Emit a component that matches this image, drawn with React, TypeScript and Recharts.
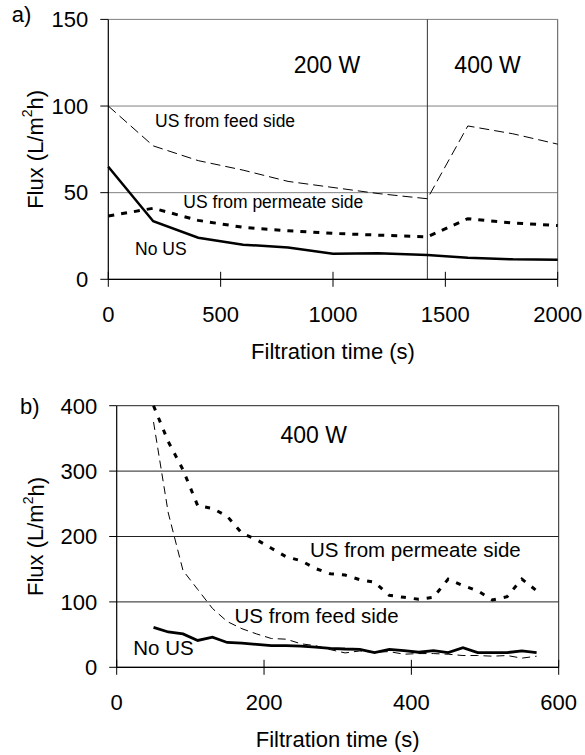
import React from 'react';
import { LineChart, Line, XAxis, YAxis, CartesianGrid, ReferenceLine, ReferenceDot } from 'recharts';

const FONT = 'Liberation Sans, Arial, Helvetica, sans-serif';

// ---------- Panel a) ----------
const timeA = [0, 200, 400, 600, 800, 1000, 1200, 1420, 1600, 1800, 2000];
const noUsA = [65, 33.5, 24, 20, 18.3, 14.8, 15, 14, 12.4, 11.5, 11.3];
const feedA = [100, 77, 68.5, 63, 56.5, 53, 49.5, 46.5, 88.5, 84, 78];
const permA = [36.5, 41, 34, 30, 28, 26.5, 25.5, 24.5, 35, 32.5, 31];
const xTicksA = [0, 500, 1000, 1500, 2000];
const yTicksA = [0, 50, 100, 150];
const powerSwitchA = 1420;

// ---------- Panel b) ----------
const timeB = [50, 70, 90, 110, 130, 150, 170, 190, 210, 230, 250, 270, 290, 310, 330, 350, 370, 390, 410, 430, 450, 470, 490, 510, 530, 550, 570];
const noUsB = [61, 54, 51, 41, 46, 38, 37, 35, 33, 33, 32.5, 31, 29, 28, 27.5, 22.5, 27.5, 25.5, 23, 25.5, 22.5, 30, 22.5, 22.5, 22.5, 25, 22.5];
const feedB = [375, 236, 148, 119, 90, 70, 59, 51, 44, 43, 36, 33, 27, 22, 25, 23, 24, 20, 21, 21, 20, 18, 18, 17, 18, 14, 17];
const permB = [400, 345, 302, 247, 243, 231, 205, 195, 182, 169, 163, 151, 143, 141, 134, 130, 110, 107, 104, 107, 135, 125, 117, 103, 108, 135, 117];
const xTicksB = [0, 200, 400, 600];
const yTicksB = [0, 100, 200, 300, 400];

const rowsA = timeA.map((t, i) => ({ t, noUs: noUsA[i], feed: feedA[i], perm: permA[i] }));
const rowsB = timeB.map((t, i) => ({ t, noUs: noUsB[i], feed: feedB[i], perm: permB[i] }));

// annotation anchors (data coordinates)
const notesA = [
  { t: 973, v: 119.3, text: '200 W', size: 23, anchor: 'middle' },
  { t: 1688, v: 119.3, text: '400 W', size: 23, anchor: 'middle' },
  { t: 208, v: 87.8, text: 'US from feed side', size: 17.5, anchor: 'start' },
  { t: 334, v: 41.2, text: 'US from permeate side', size: 17.5, anchor: 'start' },
  { t: 119, v: 14, text: 'No US', size: 17.5, anchor: 'start' },
];
const notesB = [
  { t: 267.5, v: 342.8, text: '400 W', size: 23, anchor: 'middle' },
  { t: 262.4, v: 169.1, text: 'US from permeate side', size: 20.5, anchor: 'start' },
  { t: 160, v: 67.3, text: 'US from feed side', size: 20.5, anchor: 'start' },
  { t: 22.5, v: 18.8, text: 'No US', size: 20.5, anchor: 'start' },
];

const CrossTick = (props: any) => {
  const { x, y, payload } = props;
  return (
    <g>
      <line x1={x} x2={x} y1={y - 7.5} y2={y + 7.5} stroke="#000" strokeWidth={1} />
      <text x={x} y={y + 42.4} textAnchor="middle" fontSize={22} fontFamily={FONT} fill="#000">
        {payload.value}
      </text>
    </g>
  );
};

const makeNote = (text: string, size: number, anchor: string) => (props: any) => {
  const vb = props.viewBox || {};
  const x = (vb.x || 0) + (vb.width || 0) / 2;
  const y = (vb.y || 0) + (vb.height || 0) / 2;
  return (
    <text x={x} y={y} textAnchor={anchor as any} fontSize={size} fontFamily={FONT} fill="#000">
      {text}
    </text>
  );
};

const makeYTitle = (tag: string, tagX: number, tagY: number) => (props: any) => {
  const vb = props.viewBox || {};
  const cy = (vb.y || 0) + (vb.height || 0) / 2;
  const cx = 35.5;
  return (
    <g>
      <text
        x={cx}
        y={cy}
        transform={`rotate(-90, ${cx}, ${cy})`}
        textAnchor="middle"
        dominantBaseline="central"
        fontSize={22}
        fontFamily={FONT}
        fill="#000"
      >
        Flux (L/m<tspan dy={-8} fontSize={14}>2</tspan>
        <tspan dy={8}>h)</tspan>
      </text>
      <text x={tagX} y={tagY} fontSize={22} fontFamily={FONT} fill="#000">
        {tag}
      </text>
    </g>
  );
};

const makeXTitle = (offset: number) => (props: any) => {
  const vb = props.viewBox || {};
  return (
    <text
      x={(vb.x || 0) + (vb.width || 0) / 2}
      y={(vb.y || 0) + offset}
      textAnchor="middle"
      fontSize={22}
      fontFamily={FONT}
      fill="#000"
    >
      Filtration time (s)
    </text>
  );
};

const yTick = { fontSize: 22, fill: '#000', fontFamily: FONT };

export default function App() {
  return (
    <div style={{ position: 'absolute', left: 0, top: 0, width: 585, height: 755, background: '#fff' }}>
      <div style={{ position: 'absolute', left: 0, top: 0 }}>
        <LineChart width={585} height={370} data={rowsA} margin={{ top: 19.4, right: 27.3, bottom: 10.7, left: 0 }}>
          <CartesianGrid vertical={false} stroke="#808080" strokeWidth={1} />
          <XAxis
            dataKey="t"
            type="number"
            domain={[0, 2000]}
            ticks={xTicksA}
            height={80}
            tickLine={false}
            tickSize={0}
            tickMargin={0}
            axisLine={{ stroke: '#000', strokeWidth: 1.2 }}
            tick={<CrossTick />}
            label={{ content: makeXTitle(80) }}
            interval={0}
          />
          <YAxis
            type="number"
            domain={[0, 150]}
            ticks={yTicksA}
            width={108.3}
            tickSize={8}
            tickMargin={12}
            tick={yTick}
            tickLine={{ stroke: '#000' }}
            axisLine={{ stroke: '#000', strokeWidth: 1.2 }}
            label={{ content: makeYTitle('a)', 11.7, 22) }}
            interval={0}
          />
          <ReferenceLine x={2000} stroke="#555" strokeWidth={1} />
          <ReferenceLine x={powerSwitchA} stroke="#333" strokeWidth={1} />
          <Line dataKey="feed" stroke="#000" strokeWidth={1} strokeDasharray="10 5" dot={false} isAnimationActive={false} />
          <Line dataKey="perm" stroke="#000" strokeWidth={3} strokeDasharray="6 7" dot={false} isAnimationActive={false} />
          <Line dataKey="noUs" stroke="#000" strokeWidth={2.5} dot={false} isAnimationActive={false} />
          {notesA.map((n) => (
            <ReferenceDot
              key={n.text}
              x={n.t}
              y={n.v}
              r={0}
              fill="none"
              stroke="none"
              label={{ content: makeNote(n.text, n.size, n.anchor) }}
            />
          ))}
        </LineChart>
      </div>
      <div style={{ position: 'absolute', left: 0, top: 370 }}>
        <LineChart width={585} height={385} data={rowsB} margin={{ top: 35.7, right: 26.3, bottom: 7.7, left: 0 }}>
          <CartesianGrid vertical={false} stroke="#222" strokeWidth={1} />
          <XAxis
            dataKey="t"
            type="number"
            domain={[0, 600]}
            ticks={xTicksB}
            height={80}
            tickLine={false}
            tickSize={0}
            tickMargin={0}
            axisLine={{ stroke: '#000', strokeWidth: 1.2 }}
            tick={<CrossTick />}
            label={{ content: makeXTitle(79.4) }}
            interval={0}
          />
          <YAxis
            type="number"
            domain={[0, 400]}
            ticks={yTicksB}
            width={116.7}
            tickSize={7.5}
            tickMargin={12}
            tick={yTick}
            tickLine={{ stroke: '#000' }}
            axisLine={{ stroke: '#000', strokeWidth: 1.2 }}
            label={{ content: makeYTitle('b)', 20, 44.3) }}
            interval={0}
          />
          <ReferenceLine x={600} stroke="#222" strokeWidth={1} />
          <Line dataKey="feed" stroke="#000" strokeWidth={1} strokeDasharray="8 5" dot={false} isAnimationActive={false} />
          <Line dataKey="perm" stroke="#000" strokeWidth={3} strokeDasharray="5 8" dot={false} isAnimationActive={false} />
          <Line dataKey="noUs" stroke="#000" strokeWidth={2.8} dot={false} isAnimationActive={false} />
          {notesB.map((n) => (
            <ReferenceDot
              key={n.text}
              x={n.t}
              y={n.v}
              r={0}
              fill="none"
              stroke="none"
              label={{ content: makeNote(n.text, n.size, n.anchor) }}
            />
          ))}
        </LineChart>
      </div>
    </div>
  );
}
